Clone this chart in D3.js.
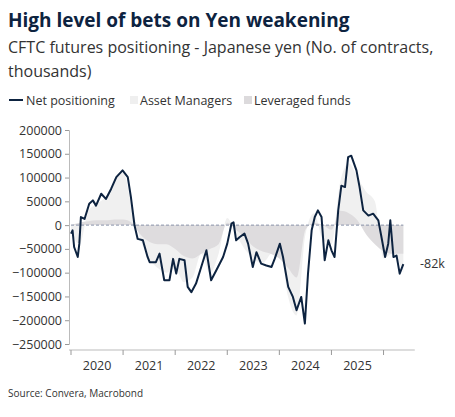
<!DOCTYPE html>
<html>
<head>
<meta charset="utf-8">
<script src="https://cdn.jsdelivr.net/npm/d3@7"></script>
<style>
  body { margin: 0; background: #fff; }
  text { font-family: "Open Sans", "Noto Sans", sans-serif; }
</style>
</head>
<body>
<svg id="chart" width="455" height="417"></svg>
<script>
// net positioning, thousands of contracts, [decimal year, value]
const netDates = [2020.00,2020.03,2020.06,2020.13,2020.16,2020.19,2020.26,2020.35,2020.42,2020.48,2020.58,2020.67,2020.77,2020.87,2020.99,
  2021.09,2021.15,2021.22,2021.28,2021.38,2021.47,2021.51,2021.63,2021.70,2021.79,2021.89,2021.96,
  2022.02,2022.08,2022.18,2022.24,2022.31,2022.40,2022.50,2022.60,2022.69,2022.79,2022.92,
  2023.00,2023.08,2023.12,2023.17,2023.24,2023.33,2023.40,2023.49,2023.56,2023.65,2023.75,2023.85,2023.91,
  2024.01,2024.07,2024.17,2024.26,2024.33,2024.42,2024.49,2024.55,2024.62,2024.68,2024.74,2024.81,2024.87,2024.94,
  2025.00,2025.06,2025.13,2025.19,2025.26,2025.32,2025.38,2025.48,2025.54,2025.61,2025.71,2025.80,2025.90,2025.96,
  2026.03,2026.09,2026.13,2026.19,2026.25,2026.31,2026.38];
const netValues = [-18,-11,-46,-67,-39,17,13,45,52,41,66,55,76,101,115,
  101,59,-1,-29,-32,-67,-78,-78,-60,-116,-116,-71,
  -102,-71,-74,-130,-141,-123,-88,-53,-116,-95,-67,
  -39,3,6,-32,-25,-18,-39,-88,-57,-81,-85,-88,-71,
  -39,-67,-130,-151,-179,-151,-207,-102,-11,17,31,17,-74,-32,
  -53,-67,31,83,80,143,146,115,80,31,20,24,10,-25,
  -67,-39,10,-67,-64,-102,-82];

// bimonthly area series
const areaDates = d3.range(39).map(i => 2020 + i / 6);
const leveragedFunds = [0,5,8,10,10,12, 12,5,-20,-35,-40,-40, -50,-65,-70,-60,-50,-40,
  5,-10,-25,-45,-55,-60, -70,-90,-110,-10,5,0, -10,30,25,10,-20,-40, -55,-60,-60];
const assetManagersTotal = [-15,-40,30,45,60,95, 110,40,-30,-70,-90,-100, -90,-120,-110,-60,-100,-60,
  15,-20,-50,-70,-80,-60, -40,-150,-190,-20,25,-30, -40,90,130,100,70,50, -70,-60,-100];
areaDates[38] = 2026.38;

const yTicks = d3.range(-250000, 200001, 50000);
const years = d3.range(2020, 2026);
const navy = '#0d2340';

const svg = d3.select('#chart');
const x = d3.scaleLinear().domain([2020, 2026.7]).range([71, 420]);
const y = d3.scaleLinear().domain([-250000, 200000]).range([344, 130]);

svg.append('text').attr('x', 8).attr('y', 27).attr('font-size', 19).attr('font-weight', 700)
  .attr('fill', navy).text('High level of bets on Yen weakening');
svg.append('text').attr('x', 8).attr('y', 53).attr('font-size', 16).attr('fill', '#333')
  .text('CFTC futures positioning - Japanese yen (No. of contracts,');
svg.append('text').attr('x', 8).attr('y', 77).attr('font-size', 16).attr('fill', '#333')
  .text('thousands)');

// legend
const lg = svg.append('g').attr('transform', 'translate(8,100)');
lg.append('line').attr('x1', 1).attr('x2', 15).attr('y1', 0).attr('y2', 0).attr('stroke', navy).attr('stroke-width', 2);
lg.append('text').attr('x', 18).attr('y', 4.5).attr('font-size', 12.5).attr('fill', '#333').text('Net positioning');
lg.append('rect').attr('x', 122).attr('y', -4).attr('width', 8).attr('height', 8).attr('fill', '#efefef');
lg.append('text').attr('x', 132).attr('y', 4.5).attr('font-size', 12.5).attr('fill', '#333').text('Asset Managers');
lg.append('rect').attr('x', 236).attr('y', -4).attr('width', 8).attr('height', 8).attr('fill', '#dcdadc');
lg.append('text').attr('x', 246).attr('y', 4.5).attr('font-size', 12.5).attr('fill', '#333').text('Leveraged funds');

// areas
const idx = d3.range(areaDates.length);
svg.append('path').datum(idx).attr('fill', '#f0f0f0')
  .attr('d', d3.area().x(i => x(areaDates[i])).y0(y(0)).y1(i => y(assetManagersTotal[i] * 1000)).curve(d3.curveMonotoneX));
svg.append('path').datum(idx).attr('fill', '#dedcde')
  .attr('d', d3.area().x(i => x(areaDates[i])).y0(y(0)).y1(i => y(leveragedFunds[i] * 1000)).curve(d3.curveMonotoneX));

// zero line
svg.append('line').attr('x1', x(2020)).attr('x2', x(2026.38)).attr('y1', y(0)).attr('y2', y(0))
  .attr('stroke', '#8a94aa').attr('stroke-dasharray', '3,2');

// y axis
const yAxis = svg.append('g').attr('transform', `translate(${x(2020) - 2},0)`)
  .call(d3.axisLeft(y).tickValues(yTicks).tickSize(4).tickFormat(d3.format('d')));
yAxis.select('.domain').attr('stroke', '#bbb');
yAxis.selectAll('.tick line').attr('stroke', '#999');
yAxis.selectAll('text').attr('font-size', 12.5).attr('fill', '#333').attr('font-family', '"Open Sans", sans-serif');

// x axis
const xg = svg.append('g').attr('transform', 'translate(0,350)');
xg.append('line').attr('x1', x(2020) - 2).attr('x2', x(2026.6)).attr('stroke', '#bbb');
xg.selectAll('line.t').data(d3.range(2020, 2027)).join('line').attr('class', 't')
  .attr('x1', d => x(d)).attr('x2', d => x(d)).attr('y1', 0).attr('y2', 5).attr('stroke', '#999');
xg.selectAll('text').data(years).join('text').attr('x', d => x(d + 0.5)).attr('y', 20)
  .attr('text-anchor', 'middle').attr('font-size', 12.5).attr('fill', '#333').text(d => d);

// net line
svg.append('path').datum(d3.range(netDates.length)).attr('fill', 'none').attr('stroke', navy)
  .attr('stroke-width', 2).attr('stroke-linejoin', 'round')
  .attr('d', d3.line().x(i => x(netDates[i])).y(i => y(netValues[i] * 1000)));

const last = netValues[netValues.length - 1];
svg.append('text').attr('x', 420).attr('y', y(last * 1000) + 4).attr('font-size', 12.5).attr('fill', '#333')
  .text(`${last}k`);

svg.append('text').attr('x', 8).attr('y', 397).attr('font-size', 10).attr('fill', '#333')
  .text('Source: Convera, Macrobond');
</script>
</body>
</html>
